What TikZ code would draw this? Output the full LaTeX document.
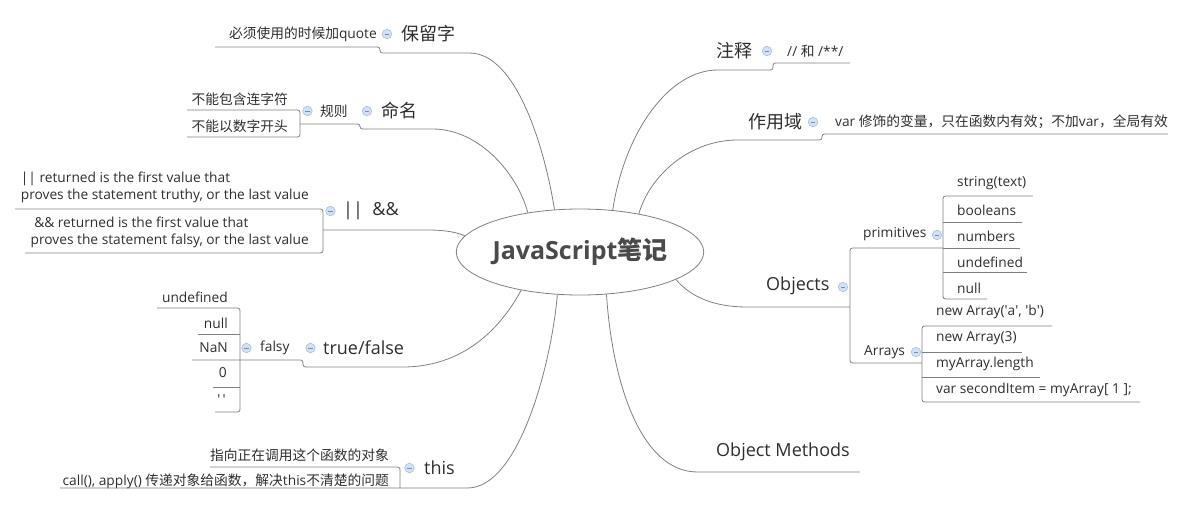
\documentclass[tikz,border=0pt]{standalone}
\usepackage{fontspec}
\setmainfont{Open Sans}
\newfontfamily\cjk{Noto Sans CJK SC}
\usetikzlibrary{
  positioning,
  shapes.geometric,
}
\definecolor{wire}{HTML}{808080}
\definecolor{ink}{HTML}{2E2E2E}
\definecolor{rootink}{HTML}{4A4A4A}
\definecolor{foldfill}{HTML}{D2E1F6}
\definecolor{foldline}{HTML}{A3BFE8}
\definecolor{foldmark}{HTML}{6A90CC}
\newcommand\sq{\textquotesingle}

\begin{document}
\begin{tikzpicture}[
        x=1pt, y=-1pt,
        every node/.style={inner sep=0pt, text=ink},
        root/.style={ellipse, draw=wire, line width=0.8pt, minimum width=234pt,
          minimum height=86pt, text=rootink, font=\fontsize{25}{29}\selectfont\bfseries},
        topic/.style={anchor=west, font=\fontsize{18}{21}\selectfont},
        leaf/.style={anchor=west, font=\fontsize{13.75}{17}\selectfont},
        leafr/.style={leaf, anchor=east},
        fold/.style={circle, draw=foldline, fill=foldfill, minimum size=9.5pt, line width=0.6pt,
          path picture={\draw[foldmark, line width=0.9pt]
            ([xshift=-2.4pt]path picture bounding box.center) --
            ([xshift=2.4pt]path picture bounding box.center);}},
        branch/.style={draw=wire, line width=0.8pt, rounded corners=2.5pt},
      ]
      \path[use as bounding box] (0,0) rectangle (1181,509);

      \node[root] (js) at (580,252) {JavaScript{\cjk 笔记}};

      % left side
      \node[topic] (kw) at (401,34) {\cjk 保留字};
      \node[fold, left=9pt of kw] (kw-f) {};
      \node[leafr] (kw-1) at (377,34) {{\cjk 必须使用的时候加}quote};
      \coordinate (kw-a) at (215,47);
      \coordinate (kw-n) at (380,53);
      \coordinate (kw-c) at (467,53);
      \draw[branch] (kw-a) -| (kw-n) -- (kw-c)
        .. controls (517,53) and (545,150) .. (js.121);

      \node[topic] (nm) at (381,111) {\cjk 命名};
      \node[fold, left=9pt of nm] (nm-f) {};
      \node[leaf] (rule) at (320,111) {\cjk 规则};
      \node[fold, left=7.5pt of rule] (rule-f) {};
      \node[leafr] (nm-1) at (288,99) {\cjk 不能包含连字符};
      \node[leafr] (nm-2) at (288,126) {\cjk 不能以数字开头};
      \coordinate (nm-a) at (187,110);
      \coordinate (nm-b) at (187,137);
      \coordinate (nm-s) at (300,124);
      \coordinate (nm-n) at (360,129);
      \coordinate (nm-c) at (430,129);
      \draw[branch] (nm-a) -| (nm-s) |- (nm-b);
      \draw[branch] (nm-s) -| (nm-n) -- (nm-c)
        .. controls (480,129) and (518,175) .. (js.143);

      \node[topic] (lo) at (343,211) {||\ \ \&\&};
      \node[fold, left=7.5pt of lo] (lo-f) {};
      \node[leafr, align=left] (lo-1) at (309,187)
        {|| returned is the first value that\\proves the statement truthy, or the last value};
      \node[leafr, align=left] (lo-2) at (309,232)
        {\ \&\& returned is the first value that\\proves the statement falsy, or the last value};
      \coordinate (lo-a) at (15,209);
      \coordinate (lo-b) at (25,253);
      \coordinate (lo-s) at (323,230);
      \coordinate (lo-c) at (425,230);
      \draw[branch] (lo-a) -| (lo-s) |- (lo-b);
      \draw[branch] (lo-s) -- (lo-c) .. controls (448,230) and (458,233) .. (js.172);

      \node[topic] (tf) at (323,348) {true/false};
      \node[fold, left=7.5pt of tf] (tf-f) {};
      \node[leaf] (fs) at (260,348) {falsy};
      \node[fold, left=8.5pt of fs] (fs-f) {};
      \node[leafr] (fs-1) at (228,297) {undefined};
      \node[leafr] (fs-2) at (228,323) {null};
      \node[leafr] (fs-3) at (228,348) {NaN};
      \node[leafr] (fs-4) at (227,373) {0};
      \node[leafr] (fs-5) at (226,400) {\sq\,\sq};
      \coordinate (fs-a) at (157,308);
      \coordinate (fs-b) at (198,334);
      \coordinate (fs-c) at (192,360);
      \coordinate (fs-d) at (213,387);
      \coordinate (fs-e) at (215,412);
      \coordinate (fs-s) at (240,360);
      \coordinate (tf-n) at (303,367);
      \coordinate (tf-c) at (400,367);
      \draw[branch] (fs-a) -| (fs-s) |- (fs-e);
      \draw[branch] (fs-b) -- (fs-b -| fs-s);
      \draw[branch] (fs-d) -- (fs-d -| fs-s);
      \draw[branch] (fs-c) -- (fs-s) -| (tf-n) -- (tf-c)
        .. controls (470,367) and (505,320) .. (js.213);

      \node[topic] (th) at (424,468) {this};
      \node[fold, left=9.5pt of th] (th-f) {};
      \node[leafr] (th-1) at (389,455) {\cjk 指向正在调用这个函数的对象};
      \node[leafr] (th-2) at (389,481)
        {call(), apply() {\cjk 传递对象给函数，解决}this{\cjk 不清楚的问题}};
      \coordinate (th-a) at (210,467);
      \coordinate (th-b) at (60,488);
      \coordinate (th-s) at (400,488);
      \coordinate (th-c) at (465,488);
      \draw[branch] (th-a) -| (th-s);
      \draw[branch] (th-b) -- (th-s) -- (th-c)
        .. controls (520,488) and (552,360) .. (js.242);

      % right side
      \node[topic] (cm) at (716,51) {\cjk 注释};
      \node[fold] (cm-f) at (767,51) {};
      \node[leaf] (cm-1) at (787,51) {// {\cjk 和} /**/};
      \coordinate (cm-a) at (850,63);
      \coordinate (cm-n) at (773,70);
      \coordinate (cm-c) at (720,70);
      \draw[branch] (cm-a) -| (cm-n) -- (cm-c)
        .. controls (670,70) and (625,130) .. (js.52);

      \node[topic] (sc) at (748,122) {\cjk 作用域};
      \node[fold] (sc-f) at (813,122) {};
      \node[leaf] (sc-1) at (835,122)
        {var {\cjk 修饰的变量，只在函数内有效；不加}var{\cjk ，全局有效}};
      \coordinate (sc-a) at (1168,134);
      \coordinate (sc-n) at (822,140);
      \coordinate (sc-c) at (740,140);
      \draw[branch] (sc-a) -| (sc-n) -- (sc-c)
        .. controls (690,140) and (650,175) .. (js.33);

      \node[topic] (ob) at (766,286) {Objects};
      \node[fold] (ob-f) at (843,287) {};
      \coordinate (ob-s) at (850,307);
      \coordinate (ob-c) at (750,307);
      \draw[branch] (ob-s) -- (ob-c) .. controls (712,307) and (690,296) .. (js.-16);

      \node[leaf] (pr) at (863,234) {primitives};
      \node[fold] (pr-f) at (937,235) {};
      \node[leaf] (pr-1) at (957,183) {string(text)};
      \node[leaf] (pr-2) at (957,210) {booleans};
      \node[leaf] (pr-3) at (957,236) {numbers};
      \node[leaf] (pr-4) at (957,262) {undefined};
      \node[leaf] (pr-5) at (957,288) {null};
      \coordinate (pr-a) at (1033,196);
      \coordinate (pr-b) at (1022,222);
      \coordinate (pr-c) at (1020,248);
      \coordinate (pr-d) at (1027,272);
      \coordinate (pr-e) at (987,299);
      \coordinate (pr-s) at (943,248);

      \node[leaf] (ar) at (864,352) {Arrays};
      \node[fold] (ar-f) at (916,352) {};
      \node[leaf] (ar-1) at (936,312) {new Array(\sq a\sq, \sq b\sq)};
      \node[leaf] (ar-2) at (936,338) {new Array(3)};
      \node[leaf] (ar-3) at (936,364) {myArray.length};
      \node[leaf] (ar-4) at (936,390) {var secondItem = myArray[ 1 ];};
      \coordinate (ar-a) at (1052,326);
      \coordinate (ar-b) at (1022,352);
      \coordinate (ar-c) at (1040,377);
      \coordinate (ar-d) at (1140,402);
      \coordinate (ar-s) at (922,363);

      \draw[branch] (pr-s) -| (ob-s) |- (ar-s);
      \draw[branch] (pr-a) -| (pr-s) |- (pr-e);
      \draw[branch] (pr-b) -- (pr-b -| pr-s);
      \draw[branch] (pr-c) -- (pr-s);
      \draw[branch] (pr-d) -- (pr-d -| pr-s);
      \draw[branch] (ar-a) -| (ar-s) |- (ar-d);
      \draw[branch] (ar-b) -- (ar-b -| ar-s);
      \draw[branch] (ar-c) -- (ar-c -| ar-s);

      \node[topic] (om) at (716,452) {Object Methods};
      \coordinate (om-a) at (860,472);
      \coordinate (om-c) at (700,472);
      \draw[branch] (om-a) -- (om-c) .. controls (640,472) and (612,380) .. (js.302);
    \end{tikzpicture}
\end{document}
